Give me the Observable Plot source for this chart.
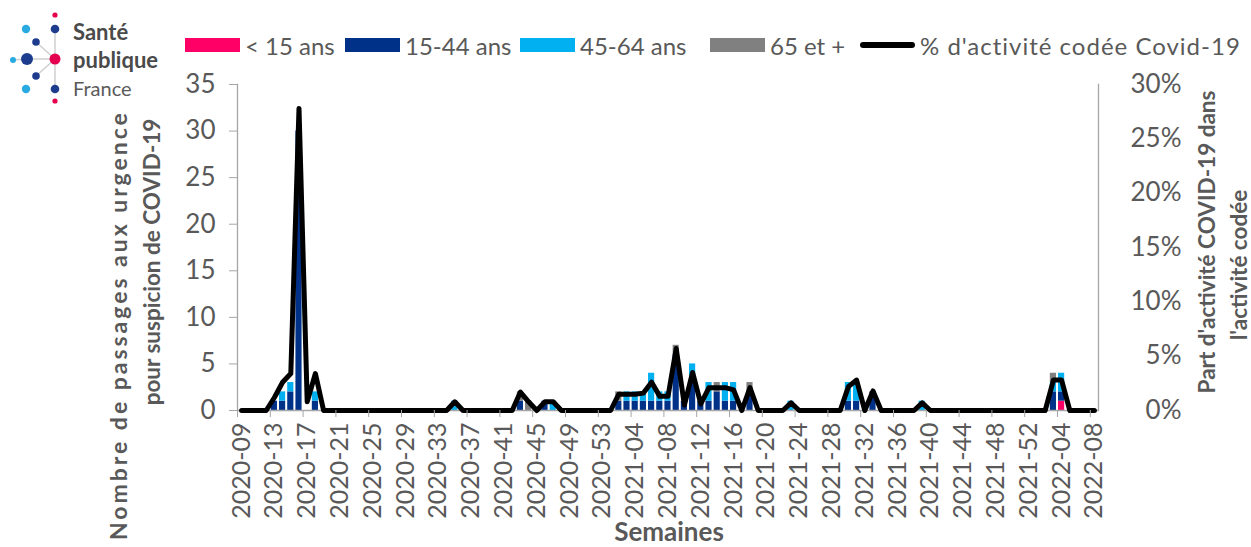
<!DOCTYPE html>
<html><head><meta charset="utf-8">
<script src="https://cdn.jsdelivr.net/npm/d3@7"></script>
<script src="https://cdn.jsdelivr.net/npm/@observablehq/plot@0.6"></script>
<style>
body{margin:0;background:#fff;font-family:Lato,"Open Sans",sans-serif;}
#wrap{position:relative;width:1251px;height:547px;overflow:hidden;background:#fff}
#chart{position:absolute;left:0;top:0}
#logo{position:absolute;left:0;top:0}
.leg{position:absolute;top:30px;height:30px;display:flex;align-items:center;font-size:24px;color:#595959;white-space:nowrap}
.sw{width:55px;height:14px;margin-right:5px}
.ln{width:55px;height:6px;border-radius:3px;background:#000;margin-right:5px}
</style></head>
<body>
<div id="wrap">
<div id="chart"></div>
<svg id="logo" width="175" height="110">
  <g stroke="#cfcfcf" stroke-width="1.5">
    <line x1="55" y1="59" x2="55" y2="29"/><line x1="55" y1="59" x2="36" y2="42"/>
    <line x1="55" y1="59" x2="27" y2="59"/><line x1="55" y1="59" x2="36" y2="76"/>
    <line x1="55" y1="59" x2="55" y2="89"/><line x1="27" y1="59" x2="13" y2="60"/>
  </g>
  <circle cx="55" cy="15" r="2.6" fill="#e4004f"/>
  <circle cx="55" cy="29" r="4.3" fill="#1d3c8e"/>
  <circle cx="26" cy="29" r="4.2" fill="#29abe2"/>
  <circle cx="36" cy="42" r="3.8" fill="#1d3c8e"/>
  <circle cx="55" cy="59" r="5.5" fill="#e4004f"/>
  <circle cx="27" cy="59" r="6" fill="#1d3c8e"/>
  <circle cx="13" cy="60" r="3" fill="#29abe2"/>
  <circle cx="36" cy="76" r="3.8" fill="#1d3c8e"/>
  <circle cx="26" cy="89" r="4.2" fill="#29abe2"/>
  <circle cx="55" cy="89" r="4.3" fill="#1d3c8e"/>
  <circle cx="55" cy="101" r="2.6" fill="#e4004f"/>
  <text x="73" y="40" font-family="Lato" font-weight="bold" font-size="22" fill="#4a4a4a">Santé</text>
  <text x="73" y="68" font-family="Lato" font-weight="bold" font-size="22" fill="#4a4a4a">publique</text>
  <text x="73" y="96" font-family="Lato" font-size="20" fill="#5a5a5a">France</text>
</svg>
</div>
<script>
// Week categories
const weeks = [];
for (const [yr, a, b] of [[2020, 9, 53], [2021, 1, 52], [2022, 1, 8]])
  for (let w = a; w <= b; w++) weeks.push(`${yr}-${String(w).padStart(2, "0")}`);
const tickWeeks = weeks.filter((d, i) => i % 4 === 0);

const groups = ["< 15 ans", "15-44 ans", "45-64 ans", "65 et +"];
const groupColors = ["#ff0066", "#003189", "#00b0f0", "#808080"];
const lineLabel = "% d'activité codée Covid-19";

// Counts by age group (one value per week, 2020-09 .. 2022-08)
const lt15 = [
  0,0,0,0,0,0,0,0,0,0, 0,0,0,0,0,0,0,0,0,0, 0,0,0,0,0,0,0,0,0,0,
  0,0,0,0,0,0,0,0,0,0, 0,0,0,0,0,0,0,0,0,0, 0,0,0,0,0,0,0,0,0,0,
  0,0,0,0,0,0,0,0,0,0, 0,0,0,0,0,0,0,0,0,0, 0,0,0,0,0,0,0,0,0,0,
  0,0,0,0,0,0,0,0,0,0, 1,0,0,0,0];
const a1544 = [
  0,0,0,0,1,1,2,30,0,1, 0,0,0,0,0,0,0,0,0,0, 0,0,0,0,0,0,0,0,0,0,
  0,0,0,0,1,0,0,1,0,0, 0,0,0,0,0,0,1,1,1,1, 1,1,1,6,1,3,1,1,2,1,
  1,0,2,0,0,0,0,0,0,0, 0,0,0,0,1,1,0,2,0,0, 0,0,0,0,0,0,0,0,0,0,
  0,0,0,0,0,0,0,0,0,2, 1,0,0,0,0];
const a4564 = [
  0,0,0,0,0,1,1,0,0,1, 0,0,0,0,0,0,0,0,0,0, 0,0,0,0,0,0,1,0,0,0,
  0,0,0,0,0,0,0,0,1,0, 0,0,0,0,0,0,0,1,1,1, 3,1,1,0,0,2,0,2,0,2,
  2,0,0,0,0,0,0,1,0,0, 0,0,0,0,2,2,0,0,0,0, 0,0,0,1,0,0,0,0,0,0,
  0,0,0,0,0,0,0,0,0,1, 2,0,0,0,0];
const a65 = [
  0,0,0,0,0,0,0,0,0,0, 0,0,0,0,0,0,0,0,0,0, 0,0,0,0,0,0,0,0,0,0,
  0,0,0,0,1,1,0,0,0,0, 0,0,0,0,0,0,1,0,0,0, 0,0,0,1,0,0,0,0,1,0,
  0,0,1,0,0,0,0,0,0,0, 0,0,0,0,0,0,0,0,0,0, 0,0,0,0,0,0,0,0,0,0,
  0,0,0,0,0,0,0,0,0,1, 0,0,0,0,0];
// % of coded activity (right axis)
const pct = [
  0,0,0,0,1.2,2.6,3.4,27.8,0.8,3.4, 0,0,0,0,0,0,0,0,0,0, 0,0,0,0,0,0,0.8,0,0,0,
  0,0,0,0,1.7,0.8,0,0.8,0.8,0, 0,0,0,0,0,0,1.5,1.5,1.5,1.6, 2.6,1.3,1.3,5.7,0.5,3.5,0.6,2.1,2.1,2.1,
  1.9,0,2.1,0,0,0,0,0.7,0,0, 0,0,0,0,2.2,2.8,0,1.8,0,0, 0,0,0,0.7,0,0,0,0,0,0,
  0,0,0,0,0,0,0,0,0,2.8, 2.8,0,0,0,0];

const leftTicks = [0, 5, 10, 15, 20, 25, 30, 35];
const rightTicks = [0, 5, 10, 15, 20, 25, 30];
const leftMax = 35, rightMax = 30;

const series = [lt15, a1544, a4564, a65];
const rows = weeks.flatMap((w, i) => groups.map((g, k) => ({week: w, group: g, n: series[k][i]})));
const lineRows = weeks.map((w, i) => ({week: w, pct: pct[i]}));

const axisGray = "#a6a6a6", textGray = "#595959";

const chart = Plot.plot({
  width: 1251, height: 547,
  marginLeft: 237, marginRight: 153, marginTop: 84, marginBottom: 137,
  style: {fontFamily: "Lato", background: "transparent", color: textGray},
  x: {type: "band", domain: weeks, paddingInner: 0.25, paddingOuter: 0.125, round: false},
  y: {domain: [0, leftMax]},
  color: {domain: groups, range: groupColors},
  marks: [
    Plot.barY(rows, {x: "week", y: "n", fill: "group"}),
    Plot.ruleY([0], {stroke: axisGray, strokeWidth: 1.3}),
    Plot.lineY(lineRows, {x: "week", y: d => d.pct / rightMax * leftMax, stroke: "#000", strokeWidth: 5, strokeLinejoin: "round", strokeLinecap: "round"}),
    Plot.frame({anchor: "left", stroke: axisGray, strokeWidth: 1.3}),
    Plot.frame({anchor: "right", stroke: axisGray, strokeWidth: 1.3}),
    Plot.axisY(leftTicks, {anchor: "left", tickSize: 8, tickPadding: 14, stroke: axisGray, fill: textGray, fontSize: 26, label: null}),
    Plot.axisY(rightTicks.map(v => v / rightMax * leftMax), {anchor: "right", tickSize: 8, tickPadding: 3, textAnchor: "end", dx: 72, stroke: axisGray, fill: textGray, fontSize: 26, label: null,
      tickFormat: v => Math.round(v / leftMax * rightMax) + "%"}),
    Plot.axisX(tickWeeks, {anchor: "bottom", tickSize: 7, dx: -4.1, stroke: axisGray, tickFormat: () => "", label: null}),
    Plot.axisX(tickWeeks, {anchor: "bottom", tickSize: 0, tickPadding: 12, tickRotate: -90, fill: textGray, fontSize: 25, label: null})
  ]
});
document.getElementById("chart").appendChild(chart);

// Axis titles
const svg = d3.select(chart);
svg.append("clipPath").attr("id", "clipT").append("rect").attr("x", 0).attr("y", 112).attr("width", 230).attr("height", 440);
const tt = (x, y, txt, anchor, size, clip) => {
  const t = svg.append("text").attr("transform", `translate(${x},${y}) rotate(-90)`)
    .attr("text-anchor", anchor).attr("dominant-baseline", "central")
    .attr("font-family", "Lato").attr("font-weight", "bold").attr("font-size", size).attr("fill", textGray).text(txt);
  if (clip) { const g = svg.append("g").attr("clip-path", "url(#clipT)"); g.node().appendChild(t.node()); }
  return t;
};
tt(118, 540, "Nombre de passages aux urgences", "start", 23, true).attr("textLength", 440).attr("lengthAdjust", "spacing");
tt(151, 262, "pour suspicion de COVID-19", "middle", 22.5, false);
tt(1206, 242, "Part d'activité COVID-19 dans", "middle", 22.5, false);
tt(1238, 265, "l'activité codée", "middle", 22.5, false);
svg.append("text").attr("x", 669).attr("y", 541).attr("text-anchor", "middle")
  .attr("font-family", "Lato").attr("font-weight", "bold").attr("font-size", 26).attr("fill", textGray).text("Semaines");

// Legend
const wrap = document.getElementById("wrap");
const legLefts = [185, 345, 520, 710, 860];
[...groups, lineLabel].forEach((g, k) => {
  const d = document.createElement("div");
  d.className = "leg";
  d.style.left = legLefts[k] + "px";
  const s = document.createElement("span");
  if (k < groups.length) { s.className = "sw"; s.style.background = groupColors[k]; }
  else s.className = "ln";
  d.appendChild(s);
  d.appendChild(document.createTextNode(g));
  if (k === groups.length) d.style.letterSpacing = "1px";
  wrap.appendChild(d);
});
</script>
</body></html>
